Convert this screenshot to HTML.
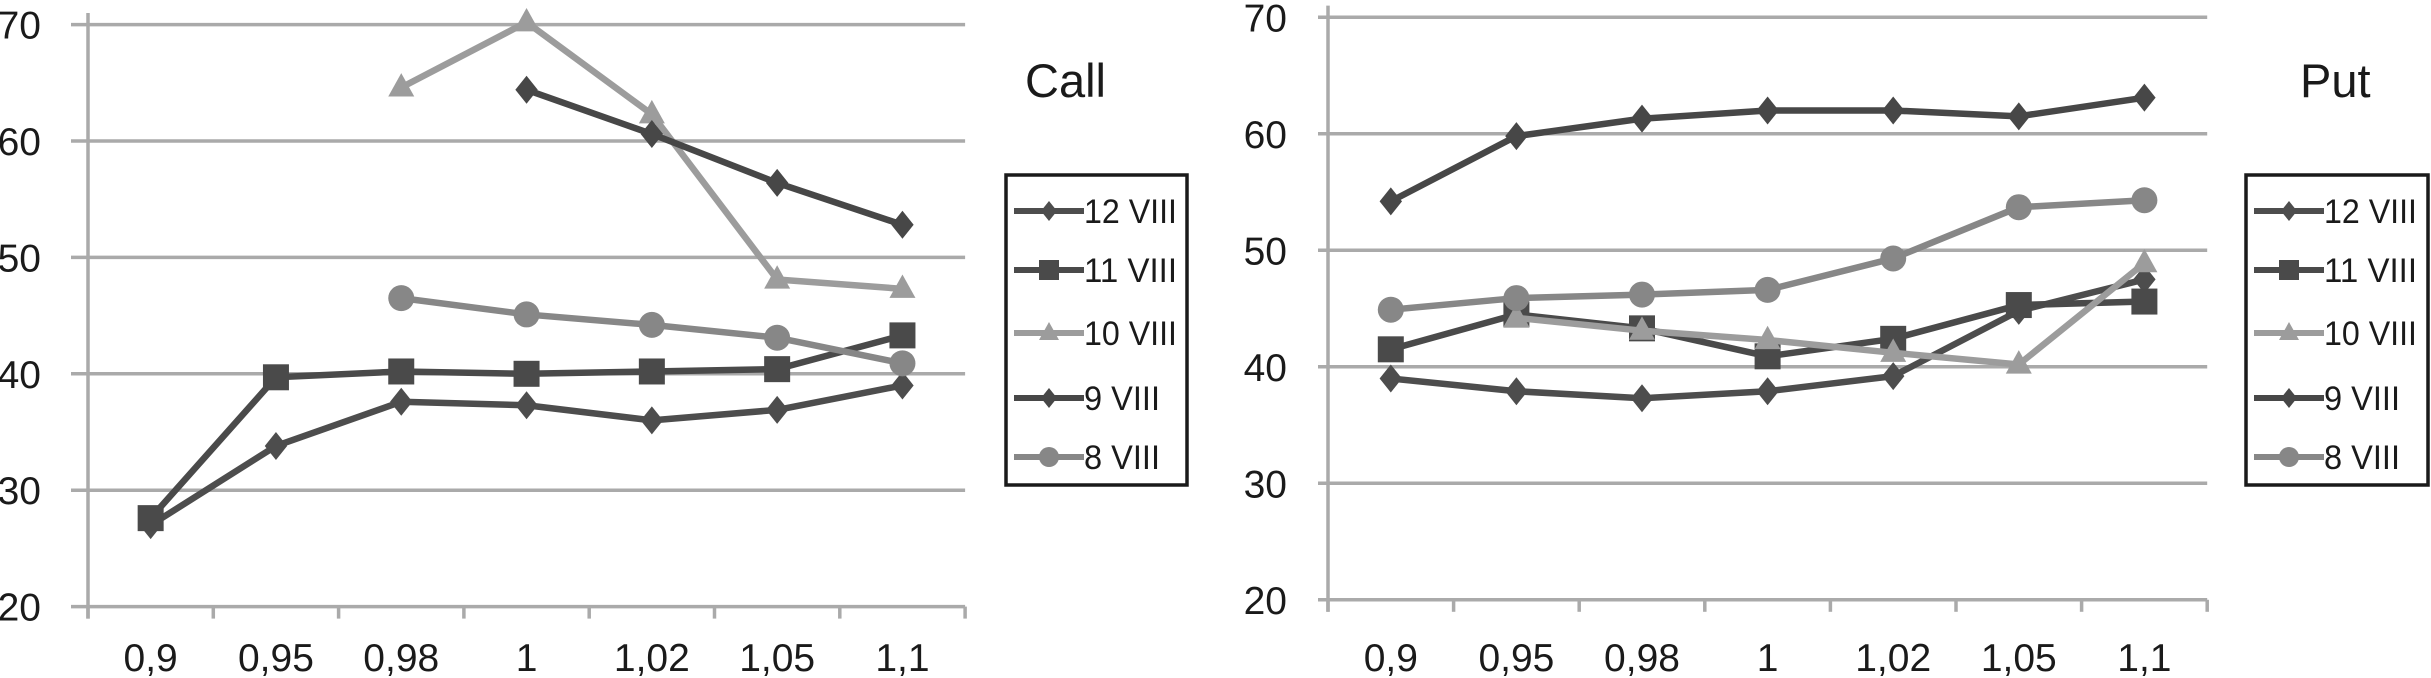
<!DOCTYPE html>
<html><head><meta charset="utf-8">
<style>
html,body{margin:0;padding:0;background:#fff;}
svg{display:block;}
text{font-family:"Liberation Sans",sans-serif;fill:#1a1a1a;}
</style></head>
<body>
<svg id="chart" width="2431" height="678" viewBox="0 0 2431 678" xmlns="http://www.w3.org/2000/svg"></svg>
<script>
const categories = ["0,9","0,95","0,98","1","1,02","1,05","1,1"];
const yTicks = [20,30,40,50,60,70];
const seriesNames = ["12 VIII","11 VIII","10 VIII","9 VIII","8 VIII"];
const call12 = [27,33.8,37.6,37.3,36,36.9,39];
const call11 = [27.6,39.7,40.2,40,40.2,40.4,43.3];
const call10 = [null,null,64.6,70.2,62.3,48.1,47.3];
const call9 = [null,null,null,64.4,60.6,56.4,52.8];
const call8 = [null,null,46.5,45.1,44.2,43.1,40.9];
const put12 = [39,37.9,37.3,37.9,39.2,44.8,47.5];
const put11 = [41.5,44.5,43.3,40.9,42.4,45.3,45.6];
const put10 = [null,44.2,43.1,42.3,41.2,40.2,48.9];
const put9 = [54.2,59.8,61.3,62,62,61.5,63.1];
const put8 = [44.9,45.9,46.2,46.6,49.3,53.7,54.3];

const NS="http://www.w3.org/2000/svg";
const svg=document.getElementById('chart');
function mk(tag,attrs,parent){const e=document.createElementNS(NS,tag);for(const k in attrs)e.setAttribute(k,attrs[k]);(parent||svg).appendChild(e);return e;}

const styles=[
 {color:"#4d4d4d",marker:"diamond"},
 {color:"#4a4a4a",marker:"square"},
 {color:"#9c9c9c",marker:"triangle"},
 {color:"#474747",marker:"diamond"},
 {color:"#878787",marker:"circle"}
];

function marker(g,type,x,y,color,s){
  let m;
  if(type==="diamond"){m=mk('polygon',{points:`${x},${y-s} ${x+s*0.8},${y} ${x},${y+s} ${x-s*0.8},${y}`,fill:color},g);}
  else if(type==="square"){m=mk('rect',{x:x-s,y:y-s,width:2*s,height:2*s,fill:color},g);}
  else if(type==="triangle"){m=mk('polygon',{points:`${x},${y-s*1.1} ${x+s},${y+s*0.7} ${x-s},${y+s*0.7}`,fill:color},g);}
  else {m=mk('circle',{cx:x,cy:y,r:s,fill:color},g);}
  return m;
}

function drawChart(cfg){
  const g=mk('g',{});
  
  
  const yScale=v=>cfg.y70+(70-v)*cfg.per10/10;
  const xScale=i=>cfg.axisX+cfg.step*(i+0.5);
  const right=cfg.axisX+cfg.step*categories.length;
  yTicks.forEach(t=>{
    const y=yScale(t);
    const l=mk('line',{x1:cfg.gridLeft,x2:right,y1:y,y2:y,stroke:"#aaaaaa","stroke-width":3.5},g);
    
    
    const tx=mk('text',{x:cfg.yLabX,y:y+14,"font-size":cfg.fs,"text-anchor":"end"},g);
    tx.textContent=t;
    
    
  });
  const ax=mk('line',{x1:cfg.axisX,x2:cfg.axisX,y1:yScale(71),y2:yScale(20)+12,stroke:"#aaaaaa","stroke-width":3.5},g);
  
  
  for(let i=0;i<=categories.length;i++){
    const x=cfg.axisX+cfg.step*i;
    const tk=mk('line',{x1:x,x2:x,y1:yScale(20),y2:yScale(20)+12,stroke:"#aaaaaa","stroke-width":3.5},g);
    
    
  }
  categories.forEach((c,i)=>{
    const x=xScale(i);
    const tx=mk('text',{x:x,y:671,"font-size":cfg.fs,"text-anchor":"middle"},g);
    tx.textContent=c;
    
    
  });
  cfg.data.forEach((arr,si)=>{
    const st=styles[si];
    let d="";let pen=false;
    arr.forEach((v,i)=>{if(v==null){pen=false;return;}d+=(pen?"L":"M")+xScale(i)+","+yScale(v)+" ";pen=true;});
    const p=mk('path',{d:d,fill:"none",stroke:st.color,"stroke-width":6.5,"stroke-linejoin":"round"},g);
    
    
    arr.forEach((v,i)=>{
      if(v==null)return;
      const m=marker(g,st.marker,xScale(i),yScale(v),st.color,st.marker==="circle"?13:(st.marker==="diamond"?14:13));
      
      
    });
  });
  const tt=mk('text',{x:cfg.titleX,y:97,"font-size":47},g);
  tt.textContent=cfg.title;
  
  
  const lg=mk('g',{},g);
  
  
  const box=mk('rect',{x:cfg.legX,y:175,width:cfg.legW,height:310,fill:"none",stroke:"#1a1a1a","stroke-width":3.5},lg);
  
  
  const ys=[211,270,333,398,457];
  seriesNames.forEach((n,si)=>{
    const st=styles[si];const y=ys[si];
    const e=mk('g',{},lg);
    
    
    mk('line',{x1:cfg.legX+8,x2:cfg.legX+78,y1:y,y2:y,stroke:st.color,"stroke-width":6},e);
    marker(e,st.marker,cfg.legX+43,y,st.color,10);
    const lx=cfg.legX+78;
    const t=mk('text',{x:lx,y:y+12,"font-size":34,"textLength":n.length>6?93:76,"lengthAdjust":"spacingAndGlyphs"},e);
    t.textContent=n;
  });
}

drawChart({name:"call-chart",title:"Call",y70:24.6,per10:116.4,axisX:88,step:125.3,gridLeft:71,yLabX:41,fs:39,titleX:1025,legX:1006,legW:181,
  data:[call12,call11,call10,call9,call8]});
drawChart({name:"put-chart",title:"Put",y70:17.3,per10:116.5,axisX:1328,step:125.6,gridLeft:1318,yLabX:1287,fs:39,titleX:2300,legX:2246,legW:182,
  data:[put12,put11,put10,put9,put8]});
</script>
</body></html>
